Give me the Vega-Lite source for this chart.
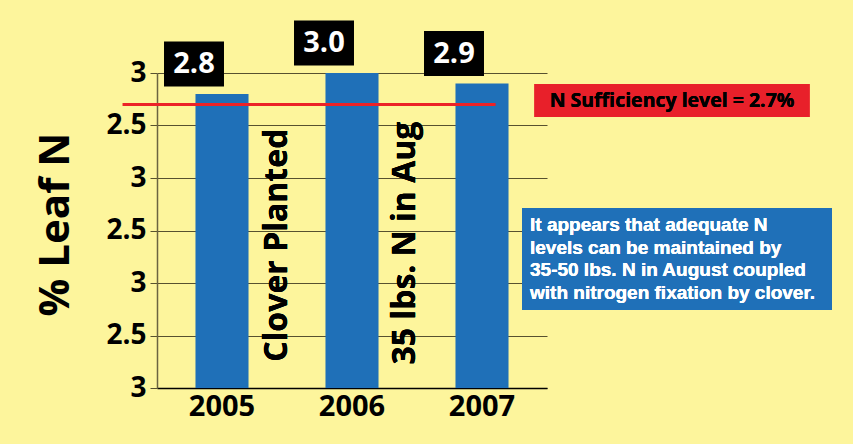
{
  "$schema": "https://vega.github.io/schema/vega-lite/v6.json",
  "width": 390,
  "height": 315,
  "autosize": {"type": "none"},
  "padding": {"left": 157, "top": 73, "right": 306, "bottom": 56},
  "background": "#fdf59c",
  "config": {
    "view": {"stroke": null},
    "font": "Open Sans"
  },
  "data": {
    "values": [
      {"year": "2005", "value": 2.8},
      {"year": "2006", "value": 3.0},
      {"year": "2007", "value": 2.9}
    ]
  },
  "encoding": {
    "x": {
      "field": "year",
      "type": "ordinal",
      "scale": {"paddingInner": 0.592, "paddingOuter": 0.296},
      "axis": {
        "title": null,
        "labelAngle": 0,
        "labelFont": "Open Sans",
        "labelFontSize": 29,
        "labelFontWeight": "bold",
        "labelColor": "black",
        "labelPadding": 4,
        "ticks": false,
        "domainColor": "black",
        "domainWidth": 1.5
      }
    },
    "y": {
      "field": "value",
      "type": "quantitative",
      "scale": {"domain": [0, 3], "nice": false, "zero": true},
      "axis": {
        "values": [0, 0.5, 1, 1.5, 2, 2.5, 3],
        "labelExpr": "(datum.value * 2) % 2 == 0 ? '3' : '2.5'",
        "grid": true,
        "gridColor": "#57512f",
        "gridWidth": 1.2,
        "domainColor": "#6b6440",
        "domainWidth": 1.5,
        "tickColor": "#57512f",
        "tickSize": 7,
        "labelFont": "Open Sans",
        "labelFontSize": 28,
        "labelFontWeight": "bold",
        "labelColor": "black",
        "labelPadding": 4,
        "title": "% Leaf N",
        "titleFont": "Open Sans",
        "titleFontSize": 42,
        "titleFontWeight": "bold",
        "titleColor": "black",
        "titlePadding": 28,
        "titleY": 151
      }
    }
  },
  "layer": [
    {
      "mark": {"type": "bar", "color": "#1f70b8"}
    },
    {
      "mark": {"type": "rule", "color": "#ec2227", "strokeWidth": 3},
      "encoding": {
        "x": {"datum": "2005", "bandPosition": -1.37},
        "x2": {"datum": "2007", "bandPosition": 0.75},
        "y": {"datum": 2.7}
      }
    },
    {
      "mark": {
        "type": "point",
        "shape": "M-1.333,-1H1.333V1H-1.333Z",
        "filled": true,
        "opacity": 1,
        "color": "black",
        "size": 2025,
        "xOffset": -28,
        "yOffset": -30
      }
    },
    {
      "mark": {
        "type": "text",
        "color": "white",
        "font": "Open Sans",
        "fontSize": 29,
        "fontWeight": "bold",
        "align": "center",
        "baseline": "middle",
        "xOffset": -28,
        "yOffset": -30
      },
      "encoding": {
        "text": {"field": "value", "type": "quantitative", "format": ".1f"}
      }
    },
    {
      "mark": {
        "type": "text",
        "color": "black",
        "font": "Open Sans",
        "fontSize": 32,
        "fontWeight": "bold",
        "angle": 270,
        "align": "center",
        "baseline": "middle",
        "xOffset": 55
      },
      "encoding": {
        "x": {"datum": "2005"},
        "y": {"datum": 1.36},
        "text": {"value": "Clover Planted"}
      }
    },
    {
      "mark": {
        "type": "text",
        "color": "black",
        "font": "Open Sans",
        "fontSize": 32,
        "fontWeight": "bold",
        "angle": 270,
        "align": "center",
        "baseline": "middle",
        "xOffset": 53
      },
      "encoding": {
        "x": {"datum": "2006"},
        "y": {"datum": 1.38},
        "text": {"value": "35 lbs. N in Aug"}
      }
    },
    {
      "mark": {
        "type": "point",
        "shape": "M-8.333,-1H8.333V1H-8.333Z",
        "filled": true,
        "opacity": 1,
        "color": "#e8202a",
        "size": 1089,
        "xOffset": 190
      },
      "encoding": {
        "x": {"datum": "2007"},
        "y": {"datum": 2.738}
      }
    },
    {
      "mark": {
        "type": "text",
        "color": "black",
        "font": "Open Sans",
        "fontSize": 19.5,
        "fontWeight": "bold",
        "align": "center",
        "baseline": "middle",
        "xOffset": 190
      },
      "encoding": {
        "x": {"datum": "2007"},
        "y": {"datum": 2.738},
        "text": {"value": "N Sufficiency level = 2.7%"}
      }
    },
    {
      "mark": {
        "type": "point",
        "shape": "M-3.039,-1H3.039V1H-3.039Z",
        "filled": true,
        "opacity": 1,
        "color": "#1f70b8",
        "size": 10404,
        "xOffset": 195
      },
      "encoding": {
        "x": {"datum": "2007"},
        "y": {"datum": 1.229}
      }
    },
    {
      "mark": {
        "type": "text",
        "color": "white",
        "font": "Liberation Sans",
        "fontSize": 19,
        "fontWeight": "bold",
        "align": "left",
        "baseline": "middle",
        "lineHeight": 22.7,
        "xOffset": 48,
        "yOffset": -34
      },
      "encoding": {
        "x": {"datum": "2007"},
        "y": {"datum": 1.229},
        "text": {"value": ["It appears that adequate N", "levels can be maintained by", "35-50 lbs. N in August coupled", "with nitrogen fixation by clover."]}
      }
    }
  ]
}
